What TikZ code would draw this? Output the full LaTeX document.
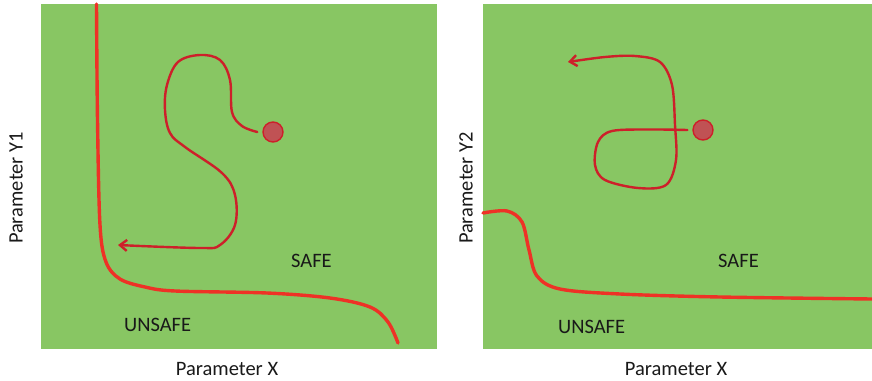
\documentclass[tikz,border=0pt]{standalone}
\usepackage{fontspec}
\setmainfont{Carlito}
\usepackage{xcolor}
\usetikzlibrary{arrows.meta, positioning}

\definecolor{fieldgreen}{RGB}{136,198,99}
\definecolor{limitred}{RGB}{238,50,38}
\definecolor{pathred}{RGB}{205,32,42}
\definecolor{dotred}{RGB}{192,82,84}

\begin{document}
\begin{tikzpicture}[x=1pt, y=-1pt, >={Straight Barb[length=7pt,width=11pt]},
                    limit/.style={limitred, line width=3.4pt, line cap=round},
                    track/.style={pathred, line width=2.4pt, line cap=round},
                    start/.style={draw=pathred, fill=dotred, line width=1.4pt, circle, minimum size=20pt, inner sep=0pt},
                    lbl/.style={font=\fontsize{20.5}{22}\selectfont, text=black!90, anchor=west, inner sep=0pt}]
    \useasboundingbox (0,0) rectangle (872,380);

    % Panneaux
    \fill[fieldgreen] (41,4) rectangle (437,349);
    \fill[fieldgreen] (483,4) rectangle (872,349);

    % Axes
    \node[lbl, anchor=center, rotate=90] (y1) at (16,188) {Parameter Y1};
    \node[lbl, anchor=center, rotate=90] (y2) at (466,188) {Parameter Y2};
    \node[lbl, anchor=center] (x1) at (227,369) {Parameter X};
    \node[lbl, anchor=center] (x2) at (676,369) {Parameter X};

    % Zones
    \node[lbl] (safe1) at (291,261) {SAFE};
    \node[lbl] (unsafe1) at (124,325) {UNSAFE};
    \node[lbl] (safe2) at (718,261) {SAFE};
    \node[lbl] (unsafe2) at (558,327) {UNSAFE};

    % Limites
    \draw[limit] plot[smooth, tension=0.55] coordinates {(96.5,4) (97.5,120) (100,225) (106,262) (120,279) (145,287) (175,291) (267,293) (330,298) (370,307) (388,322) (398,343)};
    \draw[limit] plot[smooth, tension=0.55] coordinates {(483,213) (507,211) (522,222) (529,250) (537,276) (560,289) (620,294) (720,297) (872,299)};

    % Points de depart
    \node[start] (dot1) at (273,132) {};
    \node[start] (dot2) at (703,130) {};

    % Trajectoires
    \draw[track, ->] plot[smooth, tension=0.6] coordinates {([xshift=-5pt]dot1.west) (242,126) (232,112) (230,80) (220,60) (200,55) (178,62) (167,85) (165,110) (170,133) (185,147) (222,173) (235,195) (235,225) (220,245) (200,248) (118,245)};
    \draw[track, ->] plot[smooth, tension=0.55] coordinates {([xshift=-5pt]dot2.west) (650,129.5) (612,131) (598,142) (595,165) (605,180) (638,188) (666,185) (676,160) (675,125) (672,85) (660,62) (635,56) (605,57) (568,62)};
\end{tikzpicture}
\end{document}
